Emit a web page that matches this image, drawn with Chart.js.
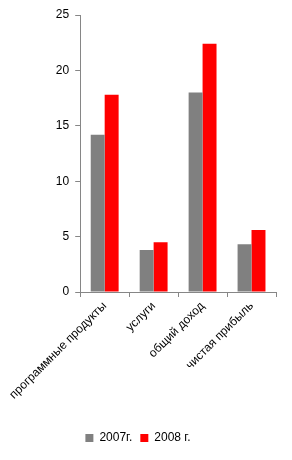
<!DOCTYPE html>
<html>
<head>
<meta charset="utf-8">
<script src="https://cdn.jsdelivr.net/npm/chart.js@4.4.1/dist/chart.umd.min.js"></script>
<style>
    html, body { margin: 0; padding: 0; background: #fff; }
    #wrap { width: 292px; height: 460px; }
</style>
</head>
<body>
<div id="wrap"><canvas id="chart"></canvas></div>
<script>
const categories = ['программные продукты', 'услуги', 'общий доход', 'чистая прибыль'];
const values2007 = [14.2, 3.8, 18.0, 4.3];
const values2008 = [17.8, 4.5, 22.4, 5.6];
const yTicks = [0, 5, 10, 15, 20, 25];

const axisColor = '#868686';
const font = { family: 'Liberation Sans', size: 12 };

new Chart(document.getElementById('chart'), {
    type: 'bar',
    data: {
        labels: categories,
        datasets: [
            { label: '2007г.', data: values2007, backgroundColor: '#808080' },
            { label: '2008 г.', data: values2008, backgroundColor: '#ff0000' }
        ]
    },
    options: {
        responsive: true,
        maintainAspectRatio: false,
        animation: false,
        layout: { padding: { top: 15, right: 16, left: 0, bottom: 6 } },
        datasets: {
            bar: { barPercentage: 1, categoryPercentage: 0.57 }
        },
        plugins: {
            tooltip: { enabled: false },
            legend: {
                position: 'bottom',
                labels: {
                    color: '#000',
                    font: font,
                    boxWidth: 8,
                    boxHeight: 8,
                    padding: 8
                }
            }
        },
        scales: {
            x: {
                grid: {
                    offset: true,
                    drawOnChartArea: false,
                    tickLength: 5,
                    color: axisColor
                },
                border: { color: axisColor },
                ticks: {
                    color: '#000',
                    font: font,
                    minRotation: 45,
                    maxRotation: 45,
                    padding: 2
                },
                afterFit: s => { s.height = 132; }
            },
            y: {
                min: 0,
                max: 25,
                afterBuildTicks: s => { s.ticks = yTicks.map(v => ({ value: v })); },
                grid: {
                    drawOnChartArea: false,
                    tickLength: 5,
                    color: axisColor
                },
                border: { color: axisColor },
                ticks: {
                    color: '#000',
                    font: font,
                    padding: 6
                },
                afterFit: s => { s.width = 78; }
            }
        }
    }
});
</script>
</body>
</html>
